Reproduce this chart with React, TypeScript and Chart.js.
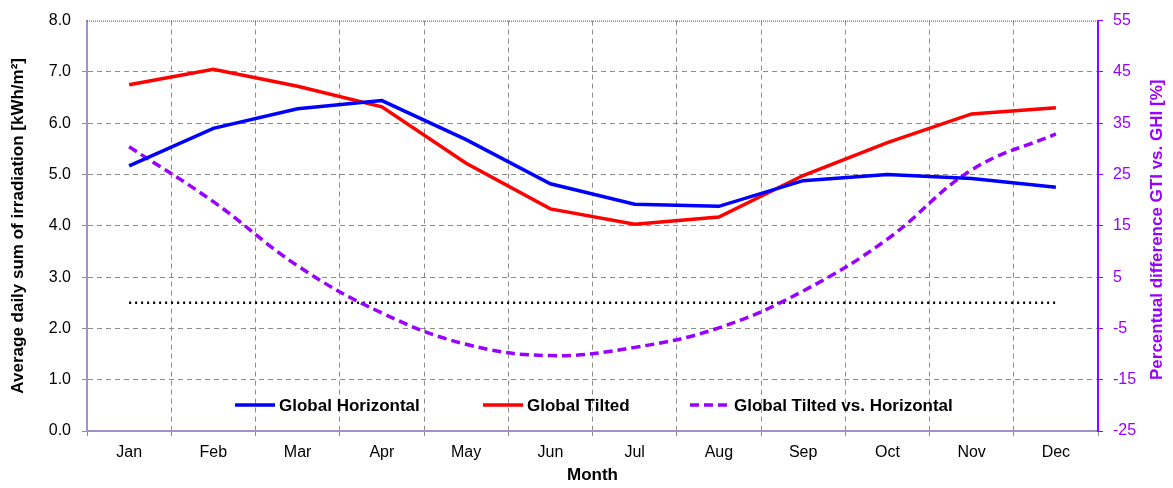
import React, { useEffect, useRef } from "react";
import { Chart, registerables } from "chart.js";

Chart.register(...registerables);

const months = ["Jan", "Feb", "Mar", "Apr", "May", "Jun", "Jul", "Aug", "Sep", "Oct", "Nov", "Dec"];
const globalHorizontal = [5.17, 5.9, 6.28, 6.44, 5.68, 4.82, 4.42, 4.38, 4.88, 5.0, 4.92, 4.75];
const globalTilted = [6.75, 7.05, 6.72, 6.32, 5.22, 4.33, 4.03, 4.17, 4.98, 5.62, 6.18, 6.3];
const tiltedVsHorizontal = [30.4, 19.7, 7.2, -2.0, -8.1, -10.3, -8.7, -4.9, 2.3, 12.4, 25.9, 32.9];
const zeroLine = [0, 0, 0, 0, 0, 0, 0, 0, 0, 0, 0, 0];

const leftTitle = "Average daily sum of irradiation [kWh/m²]";
const rightTitle = "Percentual difference GTI vs. GHI [%]";
const xTitle = "Month";

const PURPLE = "#9900ff";
const FONT = "'Liberation Sans', Arial, sans-serif";

const legendPos = [0.1464, 0.3917, 0.5964];

const framePlugin = {
  id: "framePlugin",
  afterDraw(chart: any) {
    const { ctx, chartArea } = chart;
    const { left, right, top, bottom } = chartArea;
    ctx.save();
    // top border dotted purple
    ctx.strokeStyle = PURPLE;
    ctx.lineWidth = 1;
    ctx.setLineDash([1, 1]);
    ctx.beginPath();
    ctx.moveTo(left, top + 0.5);
    ctx.lineTo(right, top + 0.5);
    ctx.stroke();
    ctx.setLineDash([]);
    // legend
    const items = chart.data.datasets.filter((d: any) => !d.hideLegend);
    const y = bottom - 26;
    const w = right - left;
    ctx.font = `bold 17px ${FONT}`;
    ctx.textBaseline = "middle";
    ctx.textAlign = "left";
    items.forEach((d: any, i: number) => {
      const x = left + legendPos[i] * w;
      ctx.strokeStyle = d.borderColor;
      ctx.lineWidth = d.borderWidth;
      ctx.setLineDash(d.borderDash || []);
      ctx.beginPath();
      ctx.moveTo(x, y);
      ctx.lineTo(x + 40, y);
      ctx.stroke();
      ctx.setLineDash([]);
      ctx.fillStyle = "#000";
      ctx.fillText(d.label, x + 44, y + 1);
    });
    // right axis title, reading bottom-to-top
    const y1 = chart.scales.y1;
    ctx.translate(y1.right - 16, (top + bottom) / 2 + 4);
    ctx.rotate(-Math.PI / 2);
    ctx.textAlign = "center";
    ctx.fillStyle = PURPLE;
    ctx.fillText(rightTitle, 0, 0);
    ctx.restore();
  },
};

export default function App() {
  const ref = useRef<HTMLCanvasElement>(null);
  useEffect(() => {
    if (!ref.current) return;
    const chart = new Chart(ref.current, {
      type: "line",
      data: {
        labels: months,
        datasets: [
          {
            label: "Global Horizontal",
            data: globalHorizontal,
            borderColor: "#0000ff",
            backgroundColor: "#0000ff",
            borderWidth: 3.5,
            pointRadius: 0,
            tension: 0,
            yAxisID: "y",
          },
          {
            label: "Global Tilted",
            data: globalTilted,
            borderColor: "#ff0000",
            backgroundColor: "#ff0000",
            borderWidth: 3.5,
            pointRadius: 0,
            tension: 0,
            yAxisID: "y",
          },
          {
            label: "Global Tilted vs. Horizontal",
            data: tiltedVsHorizontal,
            borderColor: PURPLE,
            backgroundColor: PURPLE,
            borderWidth: 3.5,
            borderDash: [9, 5],
            pointRadius: 0,
            tension: 0.4,
            yAxisID: "y1",
          },
          {
            label: "zero",
            data: zeroLine,
            borderColor: "#000000",
            borderWidth: 2.5,
            borderDash: [2, 4],
            pointRadius: 0,
            tension: 0,
            yAxisID: "y1",
            hideLegend: true,
          } as any,
        ],
      },
      options: {
        responsive: false,
        animation: false,
        layout: { padding: { top: 18, left: 0, right: 0, bottom: 0 } },
        plugins: { legend: { display: false }, tooltip: { enabled: false } },
        scales: {
          x: {
            offset: true,
            grid: { offset: true, color: "#8c8c8c", lineWidth: 1, tickLength: 5 },
            border: { display: true, color: "#a290c8", width: 2, dash: [5, 4] },
            ticks: { color: "#000", font: { family: FONT, size: 16 }, padding: 7 },
            title: {
              display: true,
              text: xTitle,
              color: "#000",
              font: { family: FONT, size: 17, weight: "bold" },
              padding: { top: 0, bottom: 2 },
            },
            afterFit(scale: any) {
              scale.height = 57;
            },
          },
          y: {
            position: "left",
            min: 0,
            max: 8,
            grid: {
              color: (c: any) => (c.tick && c.tick.value === 8 ? "rgba(0,0,0,0)" : "#8c8c8c"),
              lineWidth: 1,
              tickLength: 5,
            },
            border: { display: true, color: "#a290c8", width: 2, dash: [5, 4] },
            ticks: {
              stepSize: 1,
              color: "#000",
              font: { family: FONT, size: 16 },
              padding: 11,
              callback: (v: any) => Number(v).toFixed(1),
            },
            title: {
              display: true,
              text: leftTitle,
              color: "#000",
              font: { family: FONT, size: 17, weight: "bold" },
              padding: { top: 8, bottom: 0 },
            },
            afterFit(scale: any) {
              scale.width = 87;
            },
          },
          y1: {
            position: "right",
            min: -25,
            max: 55,
            grid: { drawOnChartArea: false, color: PURPLE, tickLength: 5 },
            border: { display: true, color: PURPLE, width: 2 },
            ticks: {
              stepSize: 10,
              color: PURPLE,
              font: { family: FONT, size: 16 },
              padding: 10,
            },
            title: { display: false },
            afterFit(scale: any) {
              scale.width = 75;
            },
          },
        },
      } as any,
      plugins: [framePlugin],
    });
    return () => chart.destroy();
  }, []);
  return (
    <div style={{ position: "absolute", left: 0, top: 0, width: 1173, height: 488, background: "#fff" }}>
      <canvas ref={ref} width={1173} height={488} style={{ display: "block" }} />
    </div>
  );
}
